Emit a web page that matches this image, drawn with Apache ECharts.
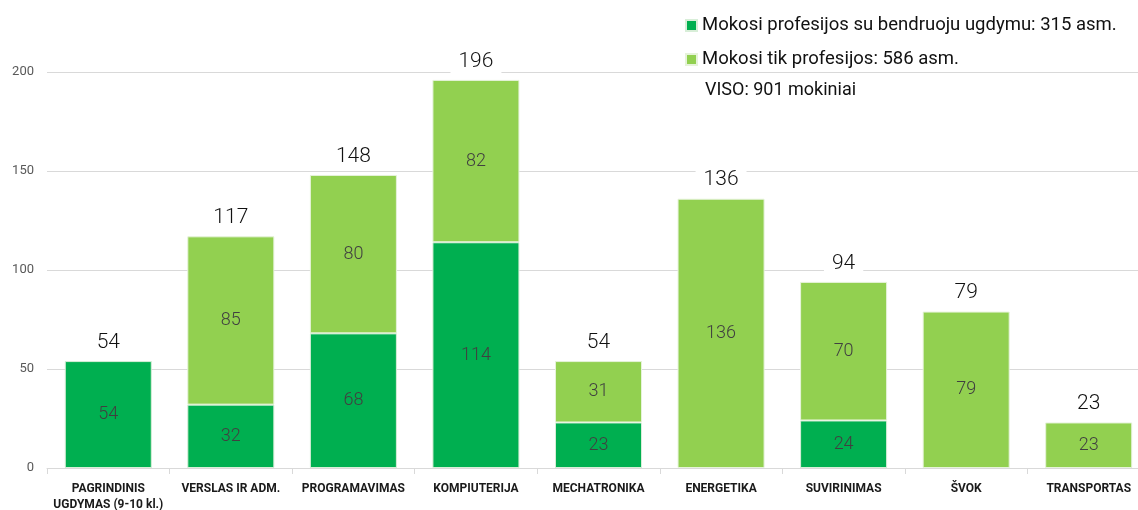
<!DOCTYPE html>
<html><head><meta charset="utf-8">
<script src="https://cdn.jsdelivr.net/npm/echarts@6/dist/echarts.min.js"></script>
<style>html,body{margin:0;padding:0;background:#fff}#c{width:1138px;height:510px}</style>
</head><body><div id="c"></div>
<script>
const categories = ['PAGRINDINIS\nUGDYMAS (9-10 kl.)','VERSLAS IR ADM.','PROGRAMAVIMAS','KOMPIUTERIJA','MECHATRONIKA','ENERGETIKA','SUVIRINIMAS','ŠVOK','TRANSPORTAS'];
const withGeneral = [54, 32, 68, 114, 23, null, 24, null, null];
const onlyProf = [null, 85, 80, 82, 31, 136, 70, 79, 23];
const seriesNames = ['Mokosi profesijos su bendruoju ugdymu: 315 asm.', 'Mokosi tik profesijos: 586 asm.'];
const totalText = 'VISO: 901 mokiniai';
const yTicks = [0, 50, 100, 150, 200];

const totals = categories.map((c, i) => (withGeneral[i] || 0) + (onlyProf[i] || 0));

const chart = echarts.init(document.getElementById('c'), null, {renderer: 'canvas'});
const innerLabel = {show: true, position: 'inside', color: '#404040', fontSize: 18, fontFamily: 'Roboto', fontWeight: 300,
  formatter: p => (p.value == null ? '' : p.value)};
chart.setOption({
  animation: false,
  grid: {left: 47, right: -12, top: 72, bottom: 42, containLabel: false, outerBoundsMode: 'none'},
  legend: {
    orient: 'vertical', left: 680, top: 11, itemWidth: 11, itemHeight: 11, itemGap: 15,
    icon: 'rect', textStyle: {fontSize: 18.5, fontFamily: 'Roboto', color: '#111'},
    data: seriesNames
  },
  graphic: [{type: 'text', left: 705, top: 81, style: {text: totalText, fontSize: 18, fontFamily: 'Roboto', fill: '#111'}}],
  xAxis: {
    type: 'category', data: categories,
    axisLine: {lineStyle: {color: '#d9d9d9'}},
    axisTick: {show: true, length: 6, lineStyle: {color: '#d9d9d9'}},
    axisLabel: {interval: 0, margin: 13, color: '#1a1a1a', fontSize: 12, fontWeight: 'bold', lineHeight: 16,
      fontFamily: 'Roboto, sans-serif'}
  },
  yAxis: {
    type: 'value', min: 0, max: 200, interval: 50,
    axisLine: {show: false}, axisTick: {show: false},
    splitLine: {lineStyle: {color: '#d9d9d9'}},
    axisLabel: {margin: 13, color: '#595959', fontSize: 13, fontFamily: 'Roboto'}
  },
  series: [
    {name: 'total', type: 'bar', data: totals, barWidth: '71%', barGap: '-100%', z: 1,
      itemStyle: {color: 'rgba(0,0,0,0)'}, silent: true,
      label: {show: true, position: 'top', distance: 7, color: '#111', fontSize: 21, fontFamily: 'Roboto', fontWeight: 300,
        backgroundColor: '#fff', padding: [1, 8]}},
    {name: seriesNames[0], type: 'bar', stack: 's', data: withGeneral, barWidth: '71%', z: 2,
      itemStyle: {color: '#00AF50', borderColor: '#d8eed8', borderWidth: 1}, label: innerLabel},
    {name: seriesNames[1], type: 'bar', stack: 's', data: onlyProf, barWidth: '71%', z: 2,
      itemStyle: {color: '#92D050', borderColor: '#e6f3da', borderWidth: 1}, label: innerLabel}
  ]
});
</script></body></html>
